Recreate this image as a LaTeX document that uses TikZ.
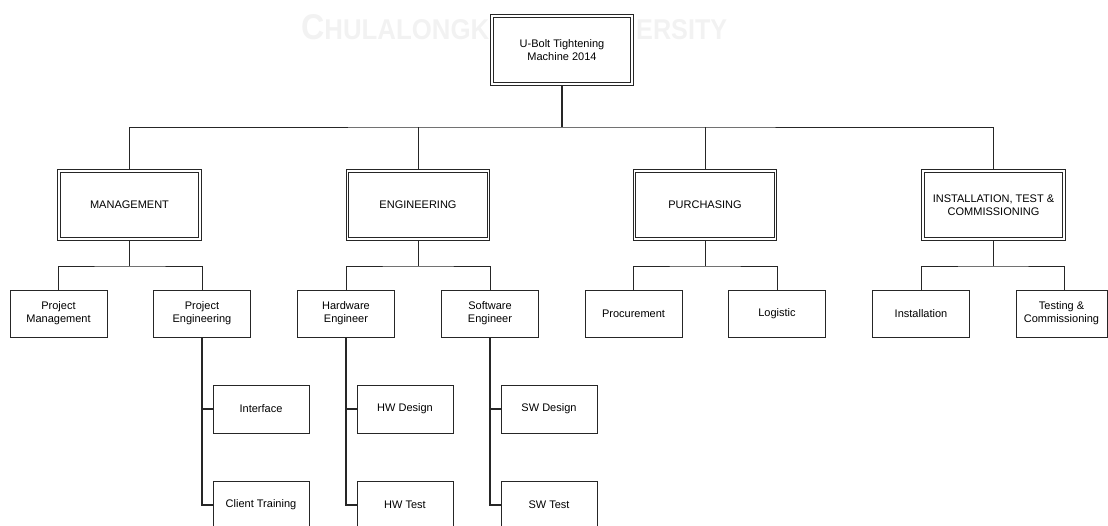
\documentclass[tikz,border=0pt]{standalone}
\usepackage{fontspec}
\setmainfont{Liberation Sans}
\usetikzlibrary{backgrounds}
\begin{document}
\begin{tikzpicture}[x=1pt,y=-1pt,
  every node/.style={font=\fontsize{11}{13}\selectfont, align=center},
  headbox/.style={draw=black!85, double=white, line width=0.8pt, double distance=1.8pt,
                  fill=white, minimum width=141pt, minimum height=68pt, inner sep=2pt},
  unitbox/.style={draw=black!85, line width=0.8pt, fill=white,
                  minimum width=97pt, minimum height=47pt, inner sep=2pt},
  taskbox/.style={unitbox, minimum width=96pt, minimum height=48pt},
  link/.style={draw=black!85, line width=0.8pt},
  trunk/.style={link, line width=1.6pt},
  stem/.style={link, line width=1.1pt},
  watermark/.style={anchor=base west, inner sep=0pt, text=black!5, font=\bfseries}]

\useasboundingbox (0,0) rectangle (1108,525);
\clip (0,0) rectangle (1108,525);

% faint university watermark, its middle covered by the top box
\node[watermark] (wml) at (301,39)
  {\resizebox{188pt}{25pt}{{\fontsize{25}{25}\selectfont C}{\fontsize{20}{20}\selectfont HULALONGK}}};
\node[watermark] (wmr) at (636,39)
  {\resizebox{91pt}{20pt}{\fontsize{20}{20}\selectfont ERSITY}};

% project
\node[headbox, minimum width=140pt] (root) at (562,50) {U-Bolt Tightening\\Machine 2014};

% departments
\node[headbox] (mgmt) at (129.5,205) {MANAGEMENT};
\node[headbox] (eng)  at (418,205)   {ENGINEERING};
\node[headbox] (pur)  at (705,205)   {PURCHASING};
\node[headbox] (inst) at (993.5,205) {INSTALLATION, TEST \&\\COMMISSIONING};

% units
\node[unitbox] (pm)    at (58.5,313.5)  {Project\\Management};
\node[unitbox] (pe)    at (202,313.5)   {Project\\Engineering};
\node[unitbox] (hw)    at (346,313.5)   {Hardware\\Engineer};
\node[unitbox] (sw)    at (490,313.5)   {Software\\Engineer};
\node[unitbox] (proc)  at (633.5,313.5) {Procurement};
\node[unitbox] (logi)  at (777,313.5)   {Logistic};
\node[unitbox] (instl) at (921,313.5)   {Installation};
\node[unitbox, minimum width=91pt] (test) at (1061.5,313.5) {Testing \&\\Commissioning};

% tasks
\node[taskbox] (iface)  at (261,409) {Interface};
\node[taskbox] (ctrain) at (261,505) {Client Training};
\node[taskbox] (hwd)    at (405,409) {HW Design};
\node[taskbox] (hwt)    at (405,505) {HW Test};
\node[taskbox] (swd)    at (549,409) {SW Design};
\node[taskbox] (swt)    at (549,505) {SW Test};

\begin{pgfonlayer}{background}
  \coordinate (bus) at (562,127);
  \coordinate (sub) at (0,266);
  \draw[trunk] (root.south) -- (bus);
  \draw[link] (mgmt.north) |- (bus) -| (inst.north);
  \draw[link] (eng.north) -- (eng.north |- bus);
  \draw[link] (pur.north) -- (pur.north |- bus);

  \draw[link] (mgmt.south) -- (mgmt.south |- sub);
  \draw[link] (pm.north) |- (mgmt.south |- sub) -| (pe.north);
  \draw[link] (eng.south) -- (eng.south |- sub);
  \draw[link] (hw.north) |- (eng.south |- sub) -| (sw.north);
  \draw[link] (pur.south) -- (pur.south |- sub);
  \draw[link] (proc.north) |- (pur.south |- sub) -| (logi.north);
  \draw[link] (inst.south) -- (inst.south |- sub);
  \draw[link] (instl.north) |- (inst.south |- sub) -| ([xshift=2.5pt]test.north);

  \draw[stem] (pe.south) |- (iface.west);
  \draw[stem] (pe.south) |- (ctrain.west);
  \draw[stem] (hw.south) |- (hwd.west);
  \draw[stem] (hw.south) |- (hwt.west);
  \draw[stem] (sw.south) |- (swd.west);
  \draw[stem] (sw.south) |- (swt.west);
\end{pgfonlayer}
\end{tikzpicture}
\end{document}
